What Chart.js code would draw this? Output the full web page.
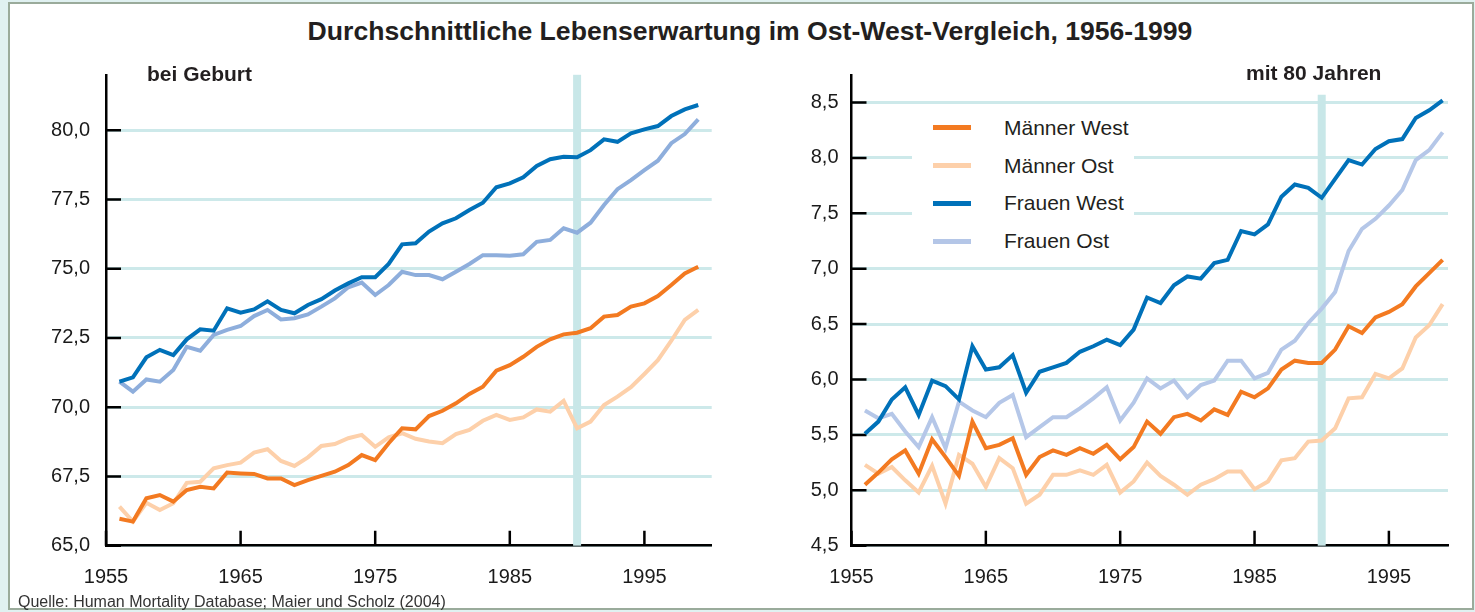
<!DOCTYPE html>
<html lang="de">
<head>
<meta charset="utf-8">
<title>Lebenserwartung Ost-West</title>
<script src="https://cdn.jsdelivr.net/npm/chart.js@4.4.1/dist/chart.umd.min.js"></script>
<style>
  html, body { margin: 0; padding: 0; }
  body {
    width: 1475px; height: 612px; position: relative; overflow: hidden;
    background: #e0f1f1; color: #231f20;
    font-family: 'Liberation Sans', Arial, sans-serif;
  }
  #panel {
    position: absolute; left: 8px; top: 2px; width: 1466px; height: 608px;
    box-sizing: border-box; background: #fff; border: 2px solid #9aab9b;
  }
  .box { position: absolute; top: 0; height: 612px; }
  #leftBox { left: 0; width: 740px; }
  #rightBox { left: 740px; width: 735px; }
  #title {
    position: absolute; left: 250px; width: 1000px; top: 16px;
    text-align: center; font-weight: bold; font-size: 26.6px; line-height: 31px;
  }
  .sub { position: absolute; font-weight: bold; font-size: 21px; line-height: 24px; }
  #subLeft { left: 147px; top: 62px; }
  #subRight { left: 1246px; top: 61px; }
  #source { position: absolute; left: 18px; top: 592px; font-size: 16px; line-height: 19px; color: #333; }
  #legend { position: absolute; left: 912px; top: 108px; width: 222px; height: 152px; background: #fff; }
  .sw { position: absolute; left: 21px; width: 38px; height: 5px; }
  .lt { position: absolute; left: 92px; font-size: 21px; line-height: 24px; }
</style>
</head>
<body>
<div id="panel"></div>
<div id="title">Durchschnittliche Lebenserwartung im Ost-West-Vergleich, 1956-1999</div>
<div class="box" id="leftBox"><canvas id="leftChart"></canvas></div>
<div class="box" id="rightBox"><canvas id="rightChart"></canvas></div>
<div class="sub" id="subLeft">bei Geburt</div>
<div class="sub" id="subRight">mit 80 Jahren</div>
<div id="legend"></div>
<div id="source">Quelle: Human Mortality Database; Maier und Scholz (2004)</div>

<script>
'use strict';
let years = [1956, 1957, 1958, 1959, 1960, 1961, 1962, 1963, 1964, 1965, 1966,
  1967, 1968, 1969, 1970, 1971, 1972, 1973, 1974, 1975, 1976, 1977, 1978, 1979,
  1980, 1981, 1982, 1983, 1984, 1985, 1986, 1987, 1988, 1989, 1990, 1991, 1992,
  1993, 1994, 1995, 1996, 1997, 1998, 1999];

let seriesNames = ['Männer West', 'Männer Ost', 'Frauen West', 'Frauen Ost'];

// bei Geburt
let maennerWestGeburt = [65.97, 65.87, 66.71, 66.83, 66.59, 67.01, 67.13, 67.07, 67.64, 67.61, 67.59,
  67.43, 67.43, 67.19, 67.37, 67.52, 67.67, 67.91, 68.27, 68.09, 68.70, 69.24, 69.20, 69.68,
  69.87, 70.14, 70.48, 70.74, 71.32, 71.52, 71.82, 72.18, 72.45, 72.63, 72.69, 72.85, 73.27,
  73.33, 73.63, 73.75, 74.01, 74.41, 74.83, 75.07];
let maennerOstGeburt = [66.41, 65.87, 66.55, 66.29, 66.53, 67.27, 67.31, 67.79, 67.91, 68.00, 68.36,
  68.48, 68.06, 67.88, 68.19, 68.60, 68.67, 68.88, 69.00, 68.57, 68.91, 69.06, 68.86, 68.76,
  68.70, 69.03, 69.18, 69.51, 69.72, 69.54, 69.63, 69.92, 69.84, 70.23, 69.24, 69.48, 70.08,
  70.38, 70.72, 71.20, 71.70, 72.40, 73.15, 73.51];
let frauenWestGeburt = [70.92, 71.08, 71.80, 72.07, 71.88, 72.45, 72.81, 72.76, 73.57, 73.41, 73.53,
  73.82, 73.51, 73.39, 73.69, 73.90, 74.21, 74.47, 74.69, 74.69, 75.17, 75.88, 75.92, 76.34,
  76.64, 76.82, 77.12, 77.38, 77.94, 78.08, 78.30, 78.71, 78.95, 79.04, 79.02, 79.28, 79.67,
  79.58, 79.89, 80.03, 80.15, 80.51, 80.75, 80.91];
let frauenOstGeburt = [70.92, 70.56, 71.00, 70.92, 71.34, 72.18, 72.04, 72.61, 72.79, 72.93, 73.29,
  73.51, 73.17, 73.21, 73.35, 73.63, 73.93, 74.33, 74.50, 74.05, 74.41, 74.89, 74.77, 74.77,
  74.62, 74.89, 75.17, 75.49, 75.49, 75.47, 75.52, 75.97, 76.04, 76.46, 76.30, 76.66, 77.30,
  77.87, 78.20, 78.56, 78.90, 79.53, 79.86, 80.39];

// mit 80 Jahren
let maennerWest80 = [5.05, 5.16, 5.28, 5.36, 5.15, 5.46, 5.30, 5.13, 5.62, 5.38, 5.41,
  5.47, 5.14, 5.30, 5.36, 5.32, 5.38, 5.33, 5.41, 5.28, 5.39, 5.62, 5.51, 5.66,
  5.69, 5.63, 5.73, 5.68, 5.89, 5.84, 5.92, 6.09, 6.17, 6.15, 6.15, 6.27, 6.48,
  6.42, 6.56, 6.61, 6.68, 6.84, 6.96, 7.08];
let maennerOst80 = [5.23, 5.15, 5.21, 5.09, 4.98, 5.22, 4.88, 5.32, 5.24, 5.03, 5.29,
  5.20, 4.88, 4.96, 5.14, 5.14, 5.18, 5.14, 5.23, 4.98, 5.08, 5.25, 5.13, 5.05,
  4.96, 5.05, 5.10, 5.17, 5.17, 5.01, 5.08, 5.27, 5.29, 5.44, 5.45, 5.56, 5.83,
  5.84, 6.05, 6.01, 6.10, 6.38, 6.49, 6.68];
let frauenWest80 = [5.51, 5.62, 5.82, 5.93, 5.68, 5.99, 5.94, 5.82, 6.30, 6.09, 6.11,
  6.22, 5.88, 6.07, 6.11, 6.15, 6.25, 6.30, 6.36, 6.31, 6.45, 6.74, 6.69, 6.85,
  6.93, 6.91, 7.05, 7.08, 7.34, 7.31, 7.40, 7.65, 7.76, 7.73, 7.64, 7.81, 7.98,
  7.94, 8.08, 8.15, 8.17, 8.36, 8.43, 8.52];
let frauenOst80 = [5.72, 5.65, 5.69, 5.53, 5.39, 5.66, 5.38, 5.80, 5.72, 5.66, 5.79,
  5.86, 5.48, 5.57, 5.66, 5.66, 5.74, 5.83, 5.93, 5.63, 5.79, 6.01, 5.92, 5.99,
  5.84, 5.95, 5.99, 6.17, 6.17, 6.01, 6.06, 6.27, 6.35, 6.51, 6.64, 6.79, 7.16,
  7.36, 7.45, 7.57, 7.71, 7.98, 8.07, 8.23];

let xTicks = [1955, 1965, 1975, 1985, 1995];
let yTicksGeburt = [65, 67.5, 70, 72.5, 75, 77.5, 80];
let yTicks80 = [4.5, 5, 5.5, 6, 6.5, 7, 7.5, 8, 8.5];
let wendeJahr = 1990;

let colorsLeft = ['#f37a21', '#fdd0aa', '#0071b9', '#8eaedc'];
let colorsRight = ['#f37a21', '#fdd0aa', '#0071b9', '#b5c7e8'];
let gridColor = '#cde9ea';
let fontFamily = "'Liberation Sans', Arial, sans-serif";

Chart.defaults.font.family = fontFamily;

// band at 1990 and the short black ticks pointing into the plot
let axisDecor = {
  id: 'axisDecor',
  beforeDatasetsDraw(chart, args, opts) {
    let ctx = chart.ctx;
    let a = chart.chartArea;
    let x = chart.scales.x;
    let y = chart.scales.y;
    ctx.save();
    let bx = x.getPixelForValue(opts.bandYear);
    let bt = y.getPixelForValue(opts.bandTop);
    ctx.fillStyle = '#c8e7e8';
    ctx.fillRect(bx - 4, bt, 8, a.bottom - bt);
    ctx.strokeStyle = '#000';
    ctx.lineWidth = 2.5;
    ctx.beginPath();
    y.ticks.forEach(t => {
      let py = y.getPixelForValue(t.value);
      ctx.moveTo(a.left, py);
      ctx.lineTo(a.left + 15, py);
    });
    x.ticks.forEach(t => {
      let px = x.getPixelForValue(t.value);
      ctx.moveTo(px, a.bottom);
      ctx.lineTo(px, a.bottom - 15);
    });
    ctx.stroke();
    ctx.restore();
  }
};

function makeChart(canvasId, series, colors, s) {
  let datasets = series.map((arr, i) => ({
    label: seriesNames[i],
    data: years.map((yr, j) => ({ x: yr, y: arr[j] })),
    borderColor: colors[i],
    borderWidth: 4,
    pointRadius: 0,
    tension: 0,
    fill: false
  }));
  return new Chart(document.getElementById(canvasId), {
    type: 'line',
    data: { datasets: datasets },
    plugins: [axisDecor],
    options: {
      responsive: true,
      maintainAspectRatio: false,
      animation: false,
      devicePixelRatio: 1,
      layout: { padding: { top: s.top, right: s.right, left: 0, bottom: 0 } },
      plugins: {
        legend: { display: false },
        title: { display: false },
        tooltip: { enabled: false },
        axisDecor: { bandYear: wendeJahr, bandTop: s.bandTop }
      },
      scales: {
        x: {
          type: 'linear',
          min: 1955,
          max: s.xMax,
          afterBuildTicks: sc => { sc.ticks = xTicks.map(v => ({ value: v })); },
          afterFit: sc => { sc.height = 66.3; },
          grid: { color: 'transparent', drawTicks: false },
          border: { color: '#000', width: 2.5 },
          ticks: {
            padding: 20, color: '#1a1a1a', maxRotation: 0, autoSkip: false,
            font: { size: 20 },
            callback: v => String(v)
          }
        },
        y: {
          type: 'linear',
          min: s.yMin,
          max: s.yMax,
          afterBuildTicks: sc => { sc.ticks = s.yTicks.map(v => ({ value: v })); },
          afterFit: sc => { sc.width = s.yWidth; },
          grid: { color: gridColor, lineWidth: 3, drawTicks: false },
          border: { color: '#000', width: 2.5 },
          ticks: {
            padding: s.labelPad, color: '#1a1a1a',
            font: { size: 20 },
            callback: v => v.toFixed(1).replace('.', ',')
          }
        }
      }
    }
  });
}

makeChart('leftChart',
  [maennerWestGeburt, maennerOstGeburt, frauenWestGeburt, frauenOstGeburt],
  colorsLeft,
  { top: 74.8, right: 28.3, yWidth: 106, labelPad: 16, xMax: 2000,
    yMin: 65, yMax: 82, yTicks: yTicksGeburt, bandTop: 82 });

makeChart('rightChart',
  [maennerWest80, maennerOst80, frauenWest80, frauenOst80],
  colorsRight,
  { top: 74.8, right: 27, yWidth: 111.5, labelPad: 13, xMax: 1999.4,
    yMin: 4.5, yMax: 8.75, yTicks: yTicks80, bandTop: 8.57 });

// legend inside the right chart
let legendEl = document.getElementById('legend');
let legendColors = ['#f37a21', '#fdd0aa', '#0071b9', '#b4c6e7'];
let rowY = [19.7, 57.7, 95.3, 133];
for (let i = 0; i < seriesNames.length; i++) {
  let sw = document.createElement('div');
  sw.className = 'sw';
  sw.style.top = (rowY[i] - 2.5) + 'px';
  sw.style.background = legendColors[i];
  legendEl.appendChild(sw);
  let lt = document.createElement('div');
  lt.className = 'lt';
  lt.style.top = (rowY[i] - 12) + 'px';
  lt.textContent = seriesNames[i];
  legendEl.appendChild(lt);
}
</script>
</body>
</html>
